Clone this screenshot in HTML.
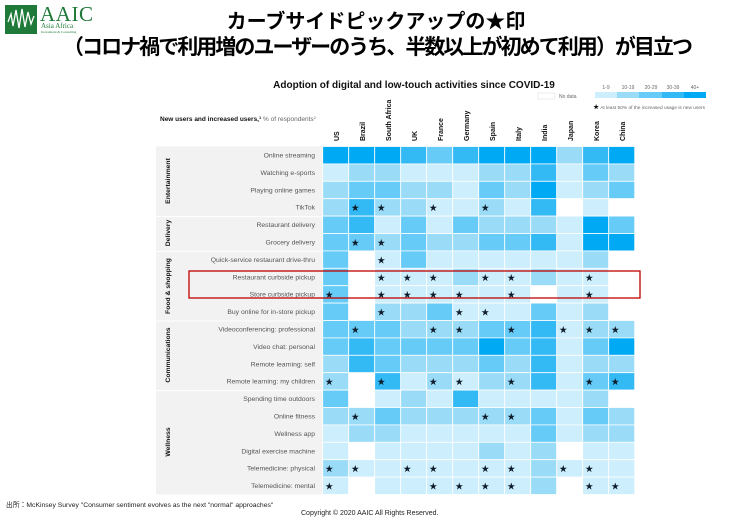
<!DOCTYPE html>
<html><head><meta charset="utf-8"><style>
body{margin:0;background:#fff;width:752px;height:519px;overflow:hidden;font-family:"Liberation Sans","Noto Sans CJK JP",sans-serif}
</style></head><body>
<svg id="s" width="752" height="519" xmlns="http://www.w3.org/2000/svg" font-family="Liberation Sans, Noto Sans CJK JP, sans-serif">
<rect x="5" y="5" width="32" height="29" fill="#1f7a3a"/>
<polyline points="8,22 11,14 13,26 16,10 19,28 22,9 25,27 28,12 31,24 34,16" fill="none" stroke="#fff" stroke-width="1.3"/>
<text x="40" y="21" font-family="Liberation Serif, serif" font-size="21" fill="#1f7a3a" textLength="53">AAIC</text>
<text x="41" y="28" font-family="Liberation Serif, serif" font-size="7" fill="#1f7a3a">Asia Africa</text>
<text x="41" y="33" font-family="Liberation Serif, serif" font-size="3.5" fill="#1f7a3a">Investment &amp; Consulting</text>
<text x="376" y="28" font-size="20" font-weight="bold" text-anchor="middle" fill="#000">カーブサイドピックアップの★印</text>
<text x="378" y="54" font-size="21" font-weight="bold" text-anchor="middle" fill="#000" textLength="630">（コロナ禍で利用増のユーザーのうち、半数以上が初めて利用）が目立つ</text>
<text x="414" y="88" font-size="10" font-weight="bold" text-anchor="middle" fill="#111">Adoption of digital and low-touch activities since COVID-19</text>
<text x="160" y="121" font-size="6.5" font-weight="bold" fill="#111">New users and increased users,<tspan font-size="4" dy="-2">1</tspan><tspan dy="2" font-weight="normal" fill="#666"> % of respondents</tspan><tspan font-size="4" dy="-2" font-weight="normal" fill="#666">2</tspan></text>
<rect x="538" y="93" width="17" height="6" fill="#fff" stroke="#ddd" stroke-width="0.5"/>
<text x="559" y="98" font-size="5" fill="#666">No data</text>
<g font-size="5" fill="#666" text-anchor="middle">
<text x="606" y="89">1-9</text><text x="628" y="89">10-19</text><text x="651" y="89">20-29</text><text x="673" y="89">30-39</text><text x="695" y="89">40+</text></g>
<rect x="595" y="92" width="22" height="6" fill="#cdeefc"/><rect x="617" y="92" width="22" height="6" fill="#9adcf8"/><rect x="639" y="92" width="23" height="6" fill="#66cbf7"/><rect x="662" y="92" width="22" height="6" fill="#33baf5"/><rect x="684" y="92" width="22" height="6" fill="#00a9f4"/>
<text x="705" y="109" font-size="4.8" fill="#666" text-anchor="end"><tspan fill="#111" font-size="6">★</tspan> At least 50% of the increased usage is new users</text>
<g font-size="7" font-weight="bold" fill="#111">
<text transform="translate(339,141) rotate(-90)">US</text>
<text transform="translate(365,141) rotate(-90)">Brazil</text>
<text transform="translate(391,141) rotate(-90)">South Africa</text>
<text transform="translate(417,141) rotate(-90)">UK</text>
<text transform="translate(443,141) rotate(-90)">France</text>
<text transform="translate(469,141) rotate(-90)">Germany</text>
<text transform="translate(495,141) rotate(-90)">Spain</text>
<text transform="translate(521,141) rotate(-90)">Italy</text>
<text transform="translate(547,141) rotate(-90)">India</text>
<text transform="translate(573,141) rotate(-90)">Japan</text>
<text transform="translate(599,141) rotate(-90)">Korea</text>
<text transform="translate(625,141) rotate(-90)">China</text>
</g>
<g id="panel"></g>
<g id="cells"></g>
<g font-size="6.8" fill="#555" text-anchor="end">
<text x="315" y="157.5">Online streaming</text>
<text x="315" y="175">Watching e-sports</text>
<text x="315" y="192.3">Playing online games</text>
<text x="315" y="209.7">TikTok</text>
<text x="315" y="227">Restaurant delivery</text>
<text x="315" y="244.5">Grocery delivery</text>
<text x="315" y="262">Quick-service restaurant drive-thru</text>
<text x="315" y="279.3">Restaurant curbside pickup</text>
<text x="315" y="296.7">Store curbside pickup</text>
<text x="315" y="314">Buy online for in-store pickup</text>
<text x="315" y="331.5">Videoconferencing: professional</text>
<text x="315" y="349">Video chat: personal</text>
<text x="315" y="366.3">Remote learning: self</text>
<text x="315" y="383.7">Remote learning: my children</text>
<text x="315" y="401">Spending time outdoors</text>
<text x="315" y="418.5">Online fitness</text>
<text x="315" y="436">Wellness app</text>
<text x="315" y="453.3">Digital exercise machine</text>
<text x="315" y="470.7">Telemedicine: physical</text>
<text x="315" y="488">Telemedicine: mental</text>
</g>
<g font-size="6.8" font-weight="bold" fill="#111" text-anchor="middle">
<text transform="translate(170,181) rotate(-90)">Entertainment</text>
<text transform="translate(170,233) rotate(-90)">Delivery</text>
<text transform="translate(170,286) rotate(-90)">Food &amp; shopping</text>
<text transform="translate(170,355) rotate(-90)">Communications</text>
<text transform="translate(170,442) rotate(-90)">Wellness</text>
</g>
<rect x="189" y="271" width="451" height="27" fill="none" stroke="#c00000" stroke-width="1.3"/>
<text x="6" y="507" font-size="6.8" fill="#222">出所：McKinsey Survey "Consumer sentiment evolves as the next "normal" approaches"</text>
<text x="301" y="515" font-size="7" fill="#222">Copyright © 2020 AAIC All Rights Reserved.</text>
</svg>
<script>
var rows=[
"5 5 5 4 3 4 5 5 5 2 4 5",
"1 2 2 1 1 1 2 2 4 1 3 2",
"2 3 3 2 2 1 3 2 5 1 2 3",
"2 4* 2* 2 1* 1 2* 1 4 0 1 0",
"3 4 1 3 1 3 2 2 2 1 5 3",
"3 3* 2* 3 2 2 3 3 4 1 5 5",
"3 0 1* 3 1 1 1 1 1 1 2 0",
"3 0 1* 1* 1* 2 1* 1* 2 1 1* 0",
"3* 0 1* 1* 1* 1* 1 1* 0 1 1* 0",
"3 0 2* 2 3 1* 1* 1 3 1 2 0",
"3 3* 3 2 2* 2* 3 3* 4 1* 2* 2*",
"3 4 3 3 3 3 5 3 4 1 3 5",
"2 4 3 2 2 2 3 2 4 1 2 2",
"2* 0 4* 1 2* 1* 2 2* 4 1 3* 4*",
"3 0 1 2 1 4 1 1 1 1 2 0",
"2 2* 3 2 2 2 2* 2* 3 1 3 2",
"1 2 2 1 1 1 1 1 3 1 2 2",
"1 0 1 1 1 1 2 1 2 0 1 1",
"2* 1* 1 1* 1* 1 1* 1* 2 1* 1* 1",
"1* 0 1 1 1* 1* 1* 1* 2 0 1* 1*"];
var col=["#fff","#cdeefc","#9adcf8","#66cbf7","#33baf5","#00a9f4"];
var ns="http://www.w3.org/2000/svg",g=document.getElementById("cells"),p=document.getElementById("panel");
[[0,4],[4,6],[6,10],[10,14],[14,20]].forEach(function(s){
 var r=document.createElementNS(ns,"rect");var y0=146.5+s[0]*17.4,y1=146.5+s[1]*17.4;
 r.setAttribute("x",156);r.setAttribute("y",y0+(s[0]?1:0));r.setAttribute("width",167);r.setAttribute("height",y1-y0-(s[0]?1:0));r.setAttribute("fill","#f2f2f2");p.appendChild(r);});
rows.forEach(function(row,i){row.split(" ").forEach(function(v,j){
 var x=322.7+j*26,y=146.5+i*17.4;var r=document.createElementNS(ns,"rect");
 r.setAttribute("x",x);r.setAttribute("y",y);r.setAttribute("width",26);r.setAttribute("height",17.4);
 r.setAttribute("fill",col[+v[0]]);r.setAttribute("stroke","#fff");r.setAttribute("stroke-width","0.8");g.appendChild(r);
 if(v.length>1){var t=document.createElementNS(ns,"text");t.setAttribute("x",x+6.5);t.setAttribute("y",y+12);t.setAttribute("font-size","8");t.setAttribute("fill","#0d1b2a");t.setAttribute("text-anchor","middle");t.textContent="★";g.appendChild(t);}
});});
</script>
</body></html>
